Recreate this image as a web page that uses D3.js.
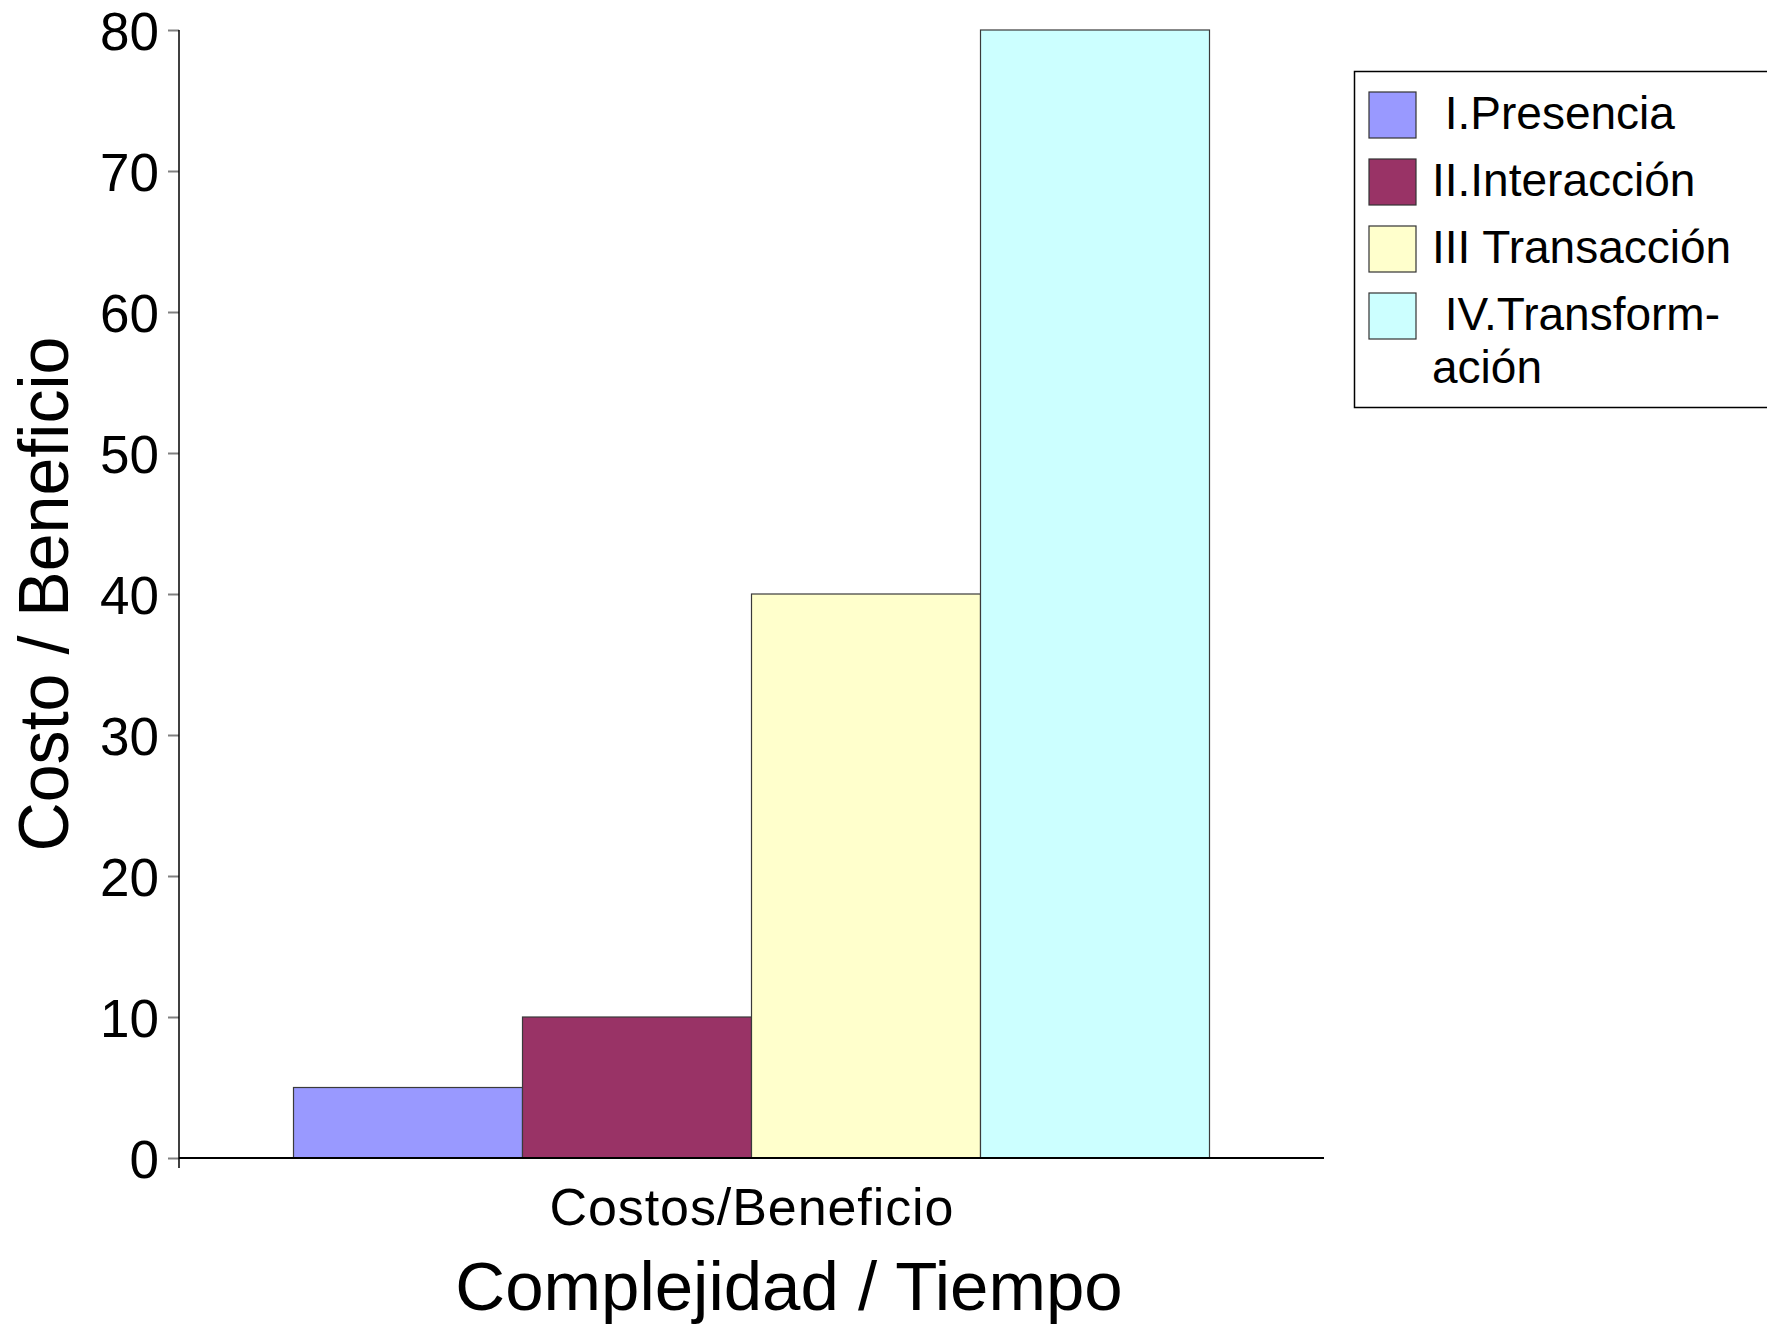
<!DOCTYPE html>
<html lang="es">
<head>
  <meta charset="UTF-8" />
  <title>Costo / Beneficio</title>
  <script src="https://d3js.org/d3.v7.min.js"></script>
  <style>
    html, body {
      margin: 0;
      padding: 0;
      background: #fff;
    }
    svg {
      display: block;
      font-family: "Liberation Sans", Arial, sans-serif;
    }
    .tick text {
      font-size: 53px;
      fill: #000;
    }
    .tick line {
      stroke: #808080;
      stroke-width: 2;
    }
  </style>
</head>
<body>
  <svg id="chart" width="1767" height="1324"></svg>

  <script>
    // data
    const categories = ["Costos/Beneficio"];
    const seriesNames = ["I.Presencia", "II.Interacción", "III Transacción", "IV.Transformación"];
    const seriesValues = [5, 10, 40, 80];
    const seriesColors = ["#9999ff", "#993366", "#ffffcc", "#ccffff"];
    const legendLines = [[" I.Presencia"], ["II.Interacción"], ["III Transacción"], [" IV.Transform-", "ación"]];
    const yTicks = [0, 10, 20, 30, 40, 50, 60, 70, 80];

    const svg = d3.select("#chart");

    const plot = { left: 179, right: 1324, top: 30, bottom: 1158 };

    const x0 = d3.scaleBand()
      .domain(categories)
      .range([plot.left, plot.right])
      .paddingInner(0)
      .paddingOuter(0.125);

    const x1 = d3.scaleBand()
      .domain(seriesNames)
      .range([0, x0.bandwidth()])
      .padding(0);

    const y = d3.scaleLinear()
      .domain([0, 80])
      .range([plot.bottom, plot.top]);

    const color = d3.scaleOrdinal()
      .domain(seriesNames)
      .range(seriesColors);

    // y axis
    const yAxis = svg.append("g")
      .attr("transform", `translate(${plot.left},0)`)
      .call(d3.axisLeft(y).tickValues(yTicks).tickSize(11).tickPadding(9));
    yAxis.select(".domain").remove();
    yAxis.selectAll(".tick text")
      .attr("font-family", null)
      .attr("font-size", null)
      .attr("dy", "0.36em");

    svg.append("line")
      .attr("x1", plot.left).attr("x2", plot.left)
      .attr("y1", y(80)).attr("y2", y(0) + 10)
      .attr("stroke", "#000")
      .attr("stroke-width", 1.5);

    // bars
    const rows = categories.map(c => seriesNames.map((s, i) => ({ cat: c, name: s, value: seriesValues[i] })));

    svg.append("g")
      .selectAll("g")
      .data(rows)
      .join("g")
      .attr("transform", (d, i) => `translate(${x0(categories[i])},0)`)
      .selectAll("rect")
      .data(d => d)
      .join("rect")
      .attr("x", d => x1(d.name))
      .attr("y", d => y(d.value))
      .attr("width", x1.bandwidth())
      .attr("height", d => y(0) - y(d.value))
      .attr("fill", d => color(d.name))
      .attr("stroke", "#3a3a3a")
      .attr("stroke-width", 1.2);

    // x baseline
    svg.append("line")
      .attr("x1", plot.left).attr("x2", plot.right)
      .attr("y1", y(0)).attr("y2", y(0))
      .attr("stroke", "#000")
      .attr("stroke-width", 2);

    // category label
    svg.append("g")
      .selectAll("text")
      .data(categories)
      .join("text")
      .attr("x", d => x0(d) + x0.bandwidth() / 2)
      .attr("y", 1225)
      .attr("text-anchor", "middle")
      .attr("font-size", 52)
      .attr("textLength", 404)
      .text(d => d);

    // axis titles
    svg.append("text")
      .attr("x", 789)
      .attr("y", 1310)
      .attr("text-anchor", "middle")
      .attr("font-size", 69)
      .text("Complejidad / Tiempo");

    svg.append("text")
      .attr("transform", "translate(68,594) rotate(-90)")
      .attr("text-anchor", "middle")
      .attr("font-size", 71)
      .attr("textLength", 515)
      .attr("lengthAdjust", "spacingAndGlyphs")
      .text("Costo / Beneficio");

    // legend
    const legend = svg.append("g");
    legend.append("rect")
      .attr("x", 1354.5).attr("y", 71.5)
      .attr("width", 600).attr("height", 336)
      .attr("fill", "#fff")
      .attr("stroke", "#000")
      .attr("stroke-width", 1.5);

    const item = legend.selectAll("g.item")
      .data(seriesNames)
      .join("g")
      .attr("class", "item")
      .attr("transform", (d, i) => `translate(0,${92 + i * 67})`);

    item.append("rect")
      .attr("x", 1369).attr("y", 0)
      .attr("width", 47).attr("height", 46)
      .attr("fill", d => color(d))
      .attr("stroke", "#333")
      .attr("stroke-width", 1.2);

    item.append("text")
      .attr("x", 1432)
      .attr("y", 37)
      .attr("font-size", 46)
      .style("white-space", "pre")
      .attr("xml:space", "preserve")
      .each(function(d, i) {
        const el = d3.select(this);
        legendLines[i].forEach((line, j) => {
          el.append("tspan")
            .attr("x", 1432)
            .attr("dy", j === 0 ? 0 : 53)
            .text(line);
        });
      });
  </script>
</body>
</html>
